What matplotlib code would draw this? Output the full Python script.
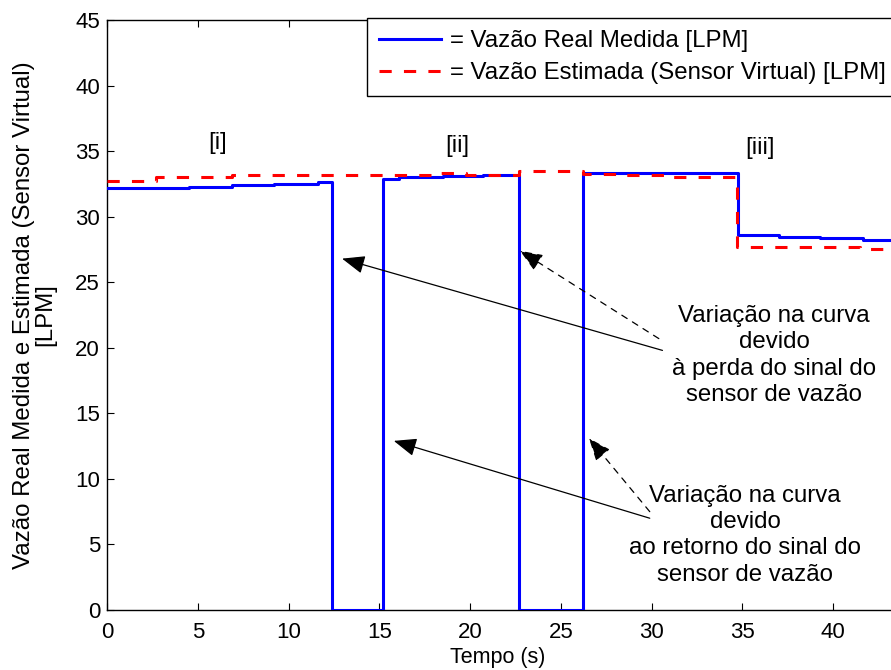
import matplotlib
matplotlib.use("Agg")
import matplotlib.pyplot as plt

plt.rcParams['font.family'] = ['Liberation Sans', 'DejaVu Sans']

# Measured flow (steps, held until next time stamp)
t_real = [0, 4.5, 6.9, 9.2, 11.6, 12.4, 15.2, 16.1, 18.5, 20.7, 22.7, 26.2, 32.3, 34.75, 37.0, 39.3, 41.65, 43.3]
v_real = [32.15, 32.25, 32.4, 32.5, 32.65, 0, 32.85, 33.0, 33.1, 33.2, 0, 33.35, 33.3, 28.6, 28.45, 28.35, 28.2, 28.2]

# Estimated flow from the virtual sensor
t_est = [0, 2.7, 6.9, 18.0, 19.8, 22.7, 26.2, 28.5, 31.0, 34.7, 41.5, 43.3]
v_est = [32.75, 33.0, 33.15, 33.3, 33.2, 33.5, 33.25, 33.15, 33.0, 27.7, 27.55, 27.55]

x_ticks = [0, 5, 10, 15, 20, 25, 30, 35, 40]
y_ticks = [0, 5, 10, 15, 20, 25, 30, 35, 40, 45]

label_real = "= Vazão Real Medida [LPM]"
label_est = "= Vazão Estimada (Sensor Virtual) [LPM]"

phases = ["[i]", "[ii]", "[iii]"]
phase_x = [6.1, 19.3, 36.0]
phase_y = [35.6, 35.4, 35.2]

note_loss = "Variação na curva\ndevido\nà perda do sinal do\nsensor de vazão"
note_return = "Variação na curva\ndevido\nao retorno do sinal do\nsensor de vazão"

# (tip, tail, dashed)
arrows = [
    ((12.95, 26.8), (30.6, 19.8), False),
    ((22.75, 27.4), (30.4, 20.7), True),
    ((15.8, 12.9), (29.9, 7.0), False),
    ((26.55, 13.1), (29.9, 7.5), True),
]

FS = 17.3
W, H = 891, 670
AX_L, AX_R = 107, 893
fig = plt.figure(figsize=(W / 100, H / 100), dpi=100)
ax = fig.add_axes([AX_L / W, (H - 610) / H, (AX_R - AX_L) / W, 590 / H])

ax.plot(t_real, v_real, drawstyle='steps-post', color='#0000ff', lw=2.2, label=label_real, zorder=3)
ax.plot(t_est, v_est, drawstyle='steps-post', color='#ff0000', lw=2.2, dashes=(4, 4), label=label_est, zorder=4)

ax.set_xlim(0, 43.3)
ax.set_ylim(0, 45)
ax.set_xticks(x_ticks)
ax.set_yticks(y_ticks)
ax.tick_params(direction='in', length=5, width=0.8, labelsize=16, top=True, right=False)
ax.tick_params(axis='x', pad=9)
ax.tick_params(axis='y', pad=5)
for s in ax.spines.values():
    s.set_linewidth(1.0)
ax.spines['right'].set_visible(False)

ax.set_xlabel("Tempo (s)", fontsize=15.5)
ax.xaxis.set_label_coords((498 - AX_L) / (AX_R - AX_L), -(647 - 610) / 590)
ax.set_ylabel("Vazão Real Medida e Estimada (Sensor Virtual)\n[LPM]", fontsize=FS, linespacing=0.95)
ax.yaxis.set_label_coords(-(AX_L - 56) / (AX_R - AX_L), 0.5)

for lab, px, py in zip(phases, phase_x, phase_y):
    ax.text(px, py, lab, fontsize=FS, ha='center', va='center')

ax.text(36.75, 19.4, note_loss, fontsize=FS, ha='center', va='center', linespacing=1.26)
ax.text(35.15, 5.7, note_return, fontsize=FS, ha='center', va='center', linespacing=1.26)

for tip, tail, dashed in arrows:
    ax.annotate('', xy=tip, xytext=tail,
                arrowprops=dict(arrowstyle='-|>,head_length=0.7,head_width=0.28',
                                color='k', lw=0.9, mutation_scale=20,
                                linestyle=(0, (5, 5)) if dashed else '-',
                                shrinkA=0, shrinkB=0))

leg = fig.legend(loc='upper left', bbox_to_anchor=(367 / W, 1 - 18 / H), fontsize=FS,
                 handlelength=2.6, handletextpad=0.35, labelspacing=0.42,
                 borderpad=0.5, borderaxespad=0.0, fancybox=False, framealpha=1, edgecolor='k')
leg.get_frame().set_linewidth(1.0)

fig.savefig("out.png", dpi=100)
